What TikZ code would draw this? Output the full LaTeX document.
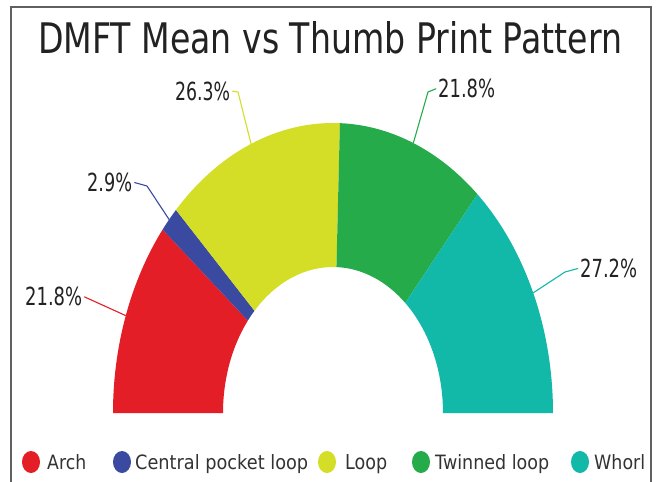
\documentclass[tikz,border=0pt]{standalone}
\usepackage{fontspec}
\setmainfont{DejaVu Sans}
\usetikzlibrary{calc}
\definecolor{cArch}{RGB}{228,30,38}
\definecolor{cCpl}{RGB}{58,74,160}
\definecolor{cLoop}{RGB}{212,222,38}
\definecolor{cTwin}{RGB}{38,171,74}
\definecolor{cWhorl}{RGB}{18,184,168}
\definecolor{txt}{RGB}{34,34,34}
\definecolor{legtxt}{RGB}{51,51,51}
\definecolor{framec}{RGB}{96,96,96}
\newcommand\donutseg[3]{%
  \fill[#1] (#2:220pt and 290pt) arc[start angle=#2,end angle=#3,x radius=220pt,y radius=290pt]
    -- (#3:110pt and 146pt) arc[start angle=#3,end angle=#2,x radius=110pt,y radius=146pt] -- cycle;}
\begin{document}
\begin{tikzpicture}[x=1pt,y=-1pt,
  lbl/.style={anchor=base west,inner sep=0pt,text=txt},
  legtext/.style={anchor=base west,inner sep=0pt,text=legtxt},
  lead/.style={line width=1.1pt,shorten <=2pt},
  legdot/.style={x radius=9pt,y radius=11pt}]
\useasboundingbox (0,0) rectangle (657,482);
\clip (0,0) rectangle (657,482);
\fill[white] (0,0) rectangle (657,482);
\draw[framec,line width=1.3pt] (11,7) rectangle (651,530);
% title
\node[lbl] (title) at (38,53) {\resizebox{584pt}{32pt}{DMFT Mean vs Thumb Print Pattern}};
% donut
\begin{scope}[shift={(333,413)}]
  \donutseg{cArch}{180}{140.76}
  \donutseg{cCpl}{140.76}{135.54}
  \donutseg{cLoop}{135.54}{88.2}
  \donutseg{cTwin}{88.2}{48.96}
  \donutseg{cWhorl}{48.96}{0}
  \coordinate (pA) at (160.38:220pt and 290pt);
  \coordinate (pB) at (138.15:220pt and 290pt);
  \coordinate (pC) at (111.87:220pt and 290pt);
  \coordinate (pD) at (68.58:220pt and 290pt);
  \coordinate (pE) at (24.48:220pt and 290pt);
\end{scope}
% labels
\node[lbl] (lA) at (25,305) {\resizebox{57pt}{18.5pt}{21.8\%}};
\node[lbl] (lB) at (87,191) {\resizebox{45pt}{18.5pt}{2.9\%}};
\node[lbl] (lC) at (175,100) {\resizebox{55pt}{18.5pt}{26.3\%}};
\node[lbl] (lD) at (438,97) {\resizebox{57pt}{18.5pt}{21.8\%}};
\node[lbl] (lE) at (580,277) {\resizebox{57pt}{18.5pt}{27.2\%}};
\coordinate (kB) at (147,186);
\coordinate (kC) at (238,92);
\coordinate (kD) at (428,92);
\coordinate (kE) at (565,272);
\draw[lead,cArch] (lA.east) -- (pA);
\draw[lead,cCpl] (lB.east) -- (kB) -- (pB);
\draw[lead,cLoop] (lC.east) -- (kC) -- (pC);
\draw[lead,cTwin] (lD.west) -- (kD) -- (pD);
\draw[lead,cWhorl] (lE.west) -- (kE) -- (pE);
% legend
\fill[cArch] (31,462) ellipse[legdot];
\fill[cCpl] (122,462) ellipse[legdot];
\fill[cLoop] (327,462) ellipse[legdot];
\fill[cTwin] (421,462) ellipse[legdot];
\fill[cWhorl] (580,462) ellipse[legdot];
\node[legtext] (gA) at (47,469) {\resizebox{39pt}{15pt}{Arch}};
\node[legtext] (gB) at (135,469) {\resizebox{173pt}{15pt}{Central pocket loop}};
\node[legtext] (gC) at (345,469) {\resizebox{42pt}{15pt}{Loop}};
\node[legtext] (gD) at (435,469) {\resizebox{114pt}{15pt}{Twinned loop}};
\node[legtext] (gE) at (594,469) {\resizebox{51pt}{15pt}{Whorl}};
\end{tikzpicture}
\end{document}
